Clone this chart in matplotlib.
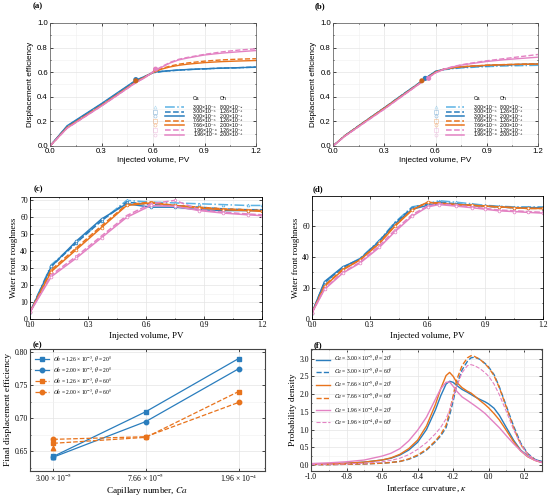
import numpy as np
import matplotlib.pyplot as plt
from matplotlib.ticker import MultipleLocator, FormatStrFormatter, NullLocator

plt.rcParams['mathtext.fontset'] = 'stix'

SANS = ['Liberation Sans', 'DejaVu Sans']
SERIF = ['Liberation Serif', 'DejaVu Serif']

# ---- series descriptions (panels a-d) ----
ca_txt = ['3.00×10⁻⁵', '3.00×10⁻⁵', '3.00×10⁻⁵', '7.66×10⁻⁵', '7.66×10⁻⁵', '1.96×10⁻⁴', '1.96×10⁻⁴']
oh_txt = ['8.00×10⁻²', '1.26×10⁻³', '2.00×10⁻³', '1.26×10⁻³', '2.00×10⁻³', '1.26×10⁻³', '2.00×10⁻³']
colores = ['#5cb3e4', '#2a7dbd', '#2a7dbd', '#e8731c', '#e8731c', '#e382c3', '#e382c3']
estilos = ['-.', '--', '-', '--', '-', '--', '-']
marcas = ['^', 's', 'o', 's', 'o', 's', 'o']

# ---- (a) displacement efficiency, theta = 20 deg ----
pv_a = [0, 0.1, 0.2, 0.3, 0.4, 0.5, 0.55, 0.6, 0.65, 0.7, 0.75, 0.8, 0.9, 1.0, 1.1, 1.2]
ef_a = [
    [0, 0.16, 0.25, 0.34, 0.435, 0.53, 0.562, 0.595, 0.605, 0.611, 0.616, 0.62, 0.627, 0.632, 0.636, 0.64],
    [0, 0.16, 0.25, 0.34, 0.435, 0.53, 0.563, 0.596, 0.606, 0.612, 0.617, 0.621, 0.628, 0.633, 0.637, 0.642],
    [0, 0.165, 0.255, 0.345, 0.44, 0.535, 0.565, 0.598, 0.607, 0.613, 0.618, 0.622, 0.628, 0.633, 0.637, 0.641],
    [0, 0.15, 0.24, 0.33, 0.425, 0.52, 0.56, 0.6, 0.63, 0.65, 0.665, 0.675, 0.69, 0.70, 0.706, 0.71],
    [0, 0.15, 0.24, 0.33, 0.425, 0.52, 0.558, 0.598, 0.625, 0.643, 0.656, 0.665, 0.678, 0.686, 0.691, 0.695],
    [0, 0.145, 0.235, 0.325, 0.42, 0.515, 0.555, 0.605, 0.645, 0.68, 0.705, 0.72, 0.745, 0.765, 0.78, 0.79],
    [0, 0.145, 0.235, 0.325, 0.42, 0.515, 0.553, 0.6, 0.64, 0.675, 0.70, 0.715, 0.74, 0.755, 0.766, 0.776],
]
bt_a_x = [0.5, 0.5, 0.615, 0.615]
bt_a_y = [0.54, 0.53, 0.62, 0.625]
bt_a_c = ['#2a7dbd', '#c8641a', '#e8731c', '#e382c3']

# ---- (b) displacement efficiency, theta = 60 deg ----
pv_b = [0, 0.07, 0.2, 0.3, 0.4, 0.5, 0.55, 0.6, 0.65, 0.7, 0.75, 0.8, 0.9, 1.0, 1.1, 1.2]
ef_b = [
    [0, 0.085, 0.213, 0.31, 0.41, 0.508, 0.558, 0.605, 0.62, 0.628, 0.634, 0.638, 0.645, 0.65, 0.653, 0.656],
    [0, 0.085, 0.213, 0.31, 0.41, 0.508, 0.558, 0.606, 0.623, 0.632, 0.639, 0.644, 0.652, 0.658, 0.662, 0.665],
    [0, 0.085, 0.213, 0.31, 0.41, 0.508, 0.558, 0.607, 0.625, 0.635, 0.642, 0.647, 0.655, 0.66, 0.664, 0.667],
    [0, 0.083, 0.21, 0.307, 0.405, 0.503, 0.552, 0.6, 0.625, 0.637, 0.644, 0.649, 0.657, 0.662, 0.665, 0.668],
    [0, 0.083, 0.21, 0.307, 0.405, 0.503, 0.552, 0.6, 0.624, 0.636, 0.643, 0.648, 0.656, 0.661, 0.664, 0.666],
    [0, 0.08, 0.205, 0.3, 0.4, 0.5, 0.548, 0.595, 0.625, 0.645, 0.66, 0.672, 0.693, 0.71, 0.727, 0.744],
    [0, 0.08, 0.205, 0.3, 0.4, 0.5, 0.548, 0.595, 0.624, 0.643, 0.657, 0.668, 0.687, 0.701, 0.712, 0.722],
]
bt_b_x = [0.54, 0.52, 0.56]
bt_b_y = [0.55, 0.53, 0.55]
bt_b_c = ['#2a7dbd', '#c8641a', '#e382c3']

# ---- (c) water front roughness, theta = 20 deg ----
pv_c = [0, 0.11, 0.24, 0.37, 0.5, 0.625, 0.75, 0.875, 1.0, 1.125, 1.2]
rug_c = [
    [4, 32, 45, 58, 70, 69, 68.5, 68, 67.5, 67, 67],
    [4, 31, 45, 58, 69, 67.5, 67, 66, 65, 64.5, 64.5],
    [4, 31, 46, 59, 68, 66, 66, 64.5, 64, 64, 64],
    [4, 29, 42, 55, 67.5, 69, 67, 66, 65, 64.5, 64],
    [4, 28, 41, 54, 67, 68.5, 67, 65.5, 64.5, 64, 63.5],
    [4, 26, 37, 49, 61, 68, 70, 64.5, 63, 62, 61.5],
    [4, 25, 36, 48, 60, 67, 66.5, 64, 62.5, 61.5, 61],
]

# ---- (d) water front roughness, theta = 60 deg ----
pv_d = [0, 0.065, 0.16, 0.25, 0.35, 0.43, 0.52, 0.6, 0.66, 0.75, 0.83, 0.9, 0.97, 1.05, 1.12, 1.2]
rug_d = [
    [4, 23, 33, 39, 50.5, 62, 72, 74, 76, 75, 74, 73, 72.5, 72, 72, 72],
    [4, 23.5, 33, 38.5, 50, 61.5, 71.5, 74, 75, 74, 73, 72.5, 72, 71.5, 71.5, 71.5],
    [4, 24, 33.5, 38.5, 50, 61, 70.5, 73, 74, 73.5, 73, 72.5, 72, 71.5, 71.5, 71.5],
    [4, 21.5, 32, 38, 49, 60, 70, 75, 74.5, 73.5, 73, 72.5, 72, 71.5, 71, 71],
    [4, 21, 31.5, 38, 48.5, 59.5, 70, 75, 74, 73.5, 73, 72.5, 72, 71.5, 71, 71],
    [4, 19.5, 30, 36.5, 47, 57, 67, 72.5, 74, 73, 72, 71, 70, 69.5, 69, 68.5],
    [4, 19, 29.5, 36, 46, 56, 66, 72, 73.5, 72.5, 71.5, 70.5, 69.5, 69, 68.5, 68],
]

# ---- (e) final displacement efficiency ----
ca_num = [3.00e-5, 7.66e-5, 1.96e-4]
ca_lbl = [r'3.00 × 10$^{-5}$', r'7.66 × 10$^{-5}$', r'1.96 × 10$^{-4}$']
fde_126_20 = [0.642, 0.710, 0.7905]
fde_200_20 = [0.641, 0.695, 0.775]
fde_126_60 = [0.662, 0.671, 0.7405]
fde_200_60 = [0.668, 0.672, 0.724]
fde_800_20 = [0.641]
fde_800_60 = [0.655]

# ---- (f) curvature distribution ----
kappa = [-1.0, -0.9, -0.8, -0.7, -0.6, -0.55, -0.5, -0.45, -0.4, -0.35, -0.3, -0.27, -0.24, -0.22, -0.2,
         -0.18, -0.15, -0.12, -0.1, -0.08, -0.05, -0.02, 0.0, 0.03, 0.06, 0.1, 0.14, 0.18, 0.22, 0.26, 0.3]
pdf_a20 = [0.02, 0.03, 0.05, 0.08, 0.14, 0.19, 0.28, 0.42, 0.64, 1.0, 1.55, 1.95, 2.28, 2.36, 2.33,
           2.24, 2.13, 2.05, 1.99, 1.93, 1.85, 1.78, 1.72, 1.6, 1.4, 1.05, 0.7, 0.42, 0.25, 0.15, 0.1]
pdf_a60 = [0.01, 0.01, 0.02, 0.03, 0.05, 0.07, 0.1, 0.16, 0.26, 0.42, 0.65, 0.82, 1.05, 1.4, 1.8,
           2.25, 2.68, 2.92, 3.02, 3.04, 2.98, 2.86, 2.76, 2.55, 2.2, 1.65, 1.1, 0.62, 0.32, 0.16, 0.08]
pdf_b20 = [0.02, 0.03, 0.05, 0.08, 0.14, 0.2, 0.3, 0.46, 0.7, 1.1, 1.7, 2.15, 2.52, 2.61, 2.5,
           2.33, 2.18, 2.08, 2.03, 1.95, 1.82, 1.7, 1.61, 1.45, 1.27, 0.97, 0.66, 0.4, 0.23, 0.13, 0.07]
pdf_b60 = [0.01, 0.01, 0.02, 0.03, 0.05, 0.07, 0.1, 0.17, 0.28, 0.44, 0.68, 0.86, 1.12, 1.5, 1.95,
           2.4, 2.8, 3.02, 3.08, 3.06, 2.98, 2.85, 2.74, 2.52, 2.18, 1.62, 1.05, 0.58, 0.3, 0.14, 0.07]
pdf_c20 = [0.04, 0.06, 0.09, 0.14, 0.25, 0.33, 0.46, 0.68, 0.98, 1.35, 1.85, 2.15, 2.33, 2.34, 2.22,
           2.08, 1.92, 1.82, 1.75, 1.68, 1.57, 1.45, 1.35, 1.2, 1.05, 0.82, 0.6, 0.4, 0.24, 0.13, 0.07]
pdf_c60 = [0.01, 0.02, 0.03, 0.05, 0.09, 0.13, 0.19, 0.29, 0.44, 0.63, 0.88, 1.06, 1.3, 1.55, 1.88,
           2.22, 2.6, 2.8, 2.83, 2.8, 2.72, 2.6, 2.5, 2.28, 1.98, 1.5, 1.0, 0.58, 0.3, 0.15, 0.07]

W, H = 550, 498
fig = plt.figure(figsize=(W / 100, H / 100), dpi=100)


def caja(l, t, r, b):
    return fig.add_axes([l / W, 1 - b / H, (r - l) / W, (b - t) / H])


def estilo(ax, fam, fs, marco='#333333', lw=0.6):
    ax.tick_params(which='both', direction='in', top=True, right=True, labelsize=fs,
                   length=2, width=0.5, pad=1.5, labelfontfamily=fam[0])
    ax.tick_params(which='minor', length=1)
    for s in ax.spines.values():
        s.set_color(marco)
        s.set_linewidth(lw)
    ax.grid(True, which='major', color='#e4e4e4', lw=0.5)
    ax.grid(True, which='minor', color='#f0f0f0', lw=0.4)
    ax.set_axisbelow(True)


def leyenda_tabla(ax, x0):
    fs = 3.7
    ax.text(x0 + 0.185, 0.385, 'Ca', transform=ax.transAxes, fontsize=fs, family=SANS, va='center')
    ax.text(x0 + 0.315, 0.385, 'Oh', transform=ax.transAxes, fontsize=fs, family=SANS, va='center')
    for i in range(7):
        yy = 0.315 - i * 0.037
        ax.plot([x0], [yy], marker=marcas[i], ms=2.2, mfc='none', mec=colores[i], mew=0.4, alpha=0.5,
                transform=ax.transAxes, clip_on=False)
        ax.plot([x0 + 0.05, x0 + 0.14], [yy, yy], color=colores[i], ls=estilos[i], lw=1.1,
                transform=ax.transAxes)
        ax.text(x0 + 0.185, yy, ca_txt[i], transform=ax.transAxes, fontsize=fs, family=SANS, va='center')
        ax.text(x0 + 0.315, yy, oh_txt[i], transform=ax.transAxes, fontsize=fs, family=SANS, va='center')


# (a) and (b)
for ax_pos, pv, ef, btx, bty, btc, x0 in [((50, 23, 256, 146), pv_a, ef_a, bt_a_x, bt_a_y, bt_a_c, 0.51),
                                          ((333, 23, 538, 146), pv_b, ef_b, bt_b_x, bt_b_y, bt_b_c, 0.50)]:
    ax = caja(*ax_pos)
    for i in range(7):
        ax.plot(pv, ef[i], color=colores[i], ls=estilos[i], lw=1.0)
    ax.scatter(btx, bty, s=7, c=btc, zorder=5)
    ax.set_xlim(0, 1.2)
    ax.set_ylim(0, 1.0)
    ax.xaxis.set_major_locator(MultipleLocator(0.3))
    ax.xaxis.set_minor_locator(MultipleLocator(0.15))
    ax.yaxis.set_major_locator(MultipleLocator(0.2))
    ax.yaxis.set_minor_locator(MultipleLocator(0.1))
    ax.xaxis.set_major_formatter(FormatStrFormatter('%.1f'))
    ax.yaxis.set_major_formatter(FormatStrFormatter('%.1f'))
    estilo(ax, SANS, 5.6, marco='#555555', lw=0.5)
    ax.set_xlabel('Injected volume, PV', fontsize=5.9, family=SANS, labelpad=1.5)
    ax.set_ylabel('Displacement efficiency', fontsize=5.9, family=SANS, labelpad=2)
    leyenda_tabla(ax, x0)

# (c) and (d)
for ax_pos, pv, rug, ylim, ystep in [((30, 197, 262, 319), pv_c, rug_c, 72, 10),
                                     ((312, 196, 543, 319), pv_d, rug_d, 79, 20)]:
    ax = caja(*ax_pos)
    for i in range(7):
        ax.plot(pv, rug[i], color=colores[i], ls=estilos[i], lw=1.1, marker=marcas[i], ms=2.0,
                mfc='white', mec=colores[i], mew=0.5)
    ax.set_xlim(0, 1.2)
    ax.set_ylim(0, ylim)
    ax.xaxis.set_major_locator(MultipleLocator(0.3))
    ax.xaxis.set_minor_locator(MultipleLocator(0.15))
    ax.yaxis.set_major_locator(MultipleLocator(ystep))
    ax.yaxis.set_minor_locator(MultipleLocator(ystep / 2))
    ax.xaxis.set_major_formatter(FormatStrFormatter('%.1f'))
    estilo(ax, SERIF, 5.5, marco='black', lw=0.6)
    ax.set_xlabel('Injected volume, PV', fontsize=6.5, family=SERIF, labelpad=2)
    ax.set_ylabel('Water front roughness', fontsize=6.5, family=SERIF, labelpad=2)

# (e)
ax = caja(30, 349, 265, 471)
ax.set_xscale('log')
c_az, c_na = '#2a7dbd', '#e8731c'
ax.plot(ca_num, fde_126_20, color=c_az, ls='-', marker='s', ms=3.2, lw=0.9,
        label=r'$Oh$ = 1.26 × 10$^{-3}$, $\theta$ = 20°')
ax.plot(ca_num, fde_200_20, color=c_az, ls='-', marker='o', ms=3.2, lw=0.9,
        label=r'$Oh$ = 2.00 × 10$^{-3}$, $\theta$ = 20°')
ax.plot(ca_num, fde_126_60, color=c_na, ls='--', marker='s', ms=3.2, lw=0.9,
        label=r'$Oh$ = 1.26 × 10$^{-3}$, $\theta$ = 60°')
ax.plot(ca_num, fde_200_60, color=c_na, ls='--', marker='o', ms=3.2, lw=0.9,
        label=r'$Oh$ = 2.00 × 10$^{-3}$, $\theta$ = 60°')
ax.plot(ca_num[:1], fde_800_20, color=c_az, ls='none', marker='^', ms=3.2)
ax.plot(ca_num[:1], fde_800_60, color=c_na, ls='none', marker='^', ms=3.2)
ax.set_xlim(2.37e-5, 2.56e-4)
ax.set_ylim(0.62, 0.805)
ax.set_xticks(ca_num)
ax.set_xticklabels(ca_lbl)
ax.xaxis.set_minor_locator(NullLocator())
ax.set_yticks([0.65, 0.70, 0.75, 0.80])
ax.yaxis.set_major_formatter(FormatStrFormatter('%.2f'))
ax.yaxis.set_minor_locator(MultipleLocator(0.025))
estilo(ax, SERIF, 5.5, marco='#444444', lw=0.8)
ax.tick_params(axis='x', pad=1.0)
ax.set_xlabel('Capillary number, $Ca$', fontsize=6.7, family=SERIF, labelpad=0.5)
ax.set_ylabel('Final displacement efficiency', fontsize=6.8, family=SERIF, labelpad=2)
ax.legend(loc='upper left', frameon=False, handlelength=2.6, labelspacing=0.2,
          borderaxespad=0.5, handletextpad=0.6, prop={'family': SERIF, 'size': 4.0})

# (f)
ax = caja(311, 349, 542, 471)
c_rs = '#e382c3'
ax.plot(kappa, pdf_a20, color=c_az, ls='-', lw=1.0, label=r'$Ca$ = 3.00 × 10$^{-5}$, $\theta$ = 20°')
ax.plot(kappa, pdf_a60, color=c_az, ls='--', lw=1.0, label=r'$Ca$ = 3.00 × 10$^{-5}$, $\theta$ = 60°')
ax.plot(kappa, pdf_b20, color=c_na, ls='-', lw=1.0, label=r'$Ca$ = 7.66 × 10$^{-5}$, $\theta$ = 20°')
ax.plot(kappa, pdf_b60, color=c_na, ls='--', lw=1.0, label=r'$Ca$ = 7.66 × 10$^{-5}$, $\theta$ = 60°')
ax.plot(kappa, pdf_c20, color=c_rs, ls='-', lw=1.0, label=r'$Ca$ = 1.96 × 10$^{-4}$, $\theta$ = 20°')
ax.plot(kappa, pdf_c60, color=c_rs, ls='--', lw=0.8, label=r'$Ca$ = 1.96 × 10$^{-4}$, $\theta$ = 60°')
ax.set_xlim(-1.0, 0.3)
ax.set_ylim(-0.17, 3.27)
ax.xaxis.set_major_locator(MultipleLocator(0.2))
ax.xaxis.set_minor_locator(MultipleLocator(0.1))
ax.yaxis.set_major_locator(MultipleLocator(0.5))
ax.yaxis.set_minor_locator(MultipleLocator(0.25))
ax.xaxis.set_major_formatter(FormatStrFormatter('%.1f'))
ax.yaxis.set_major_formatter(FormatStrFormatter('%.1f'))
estilo(ax, SERIF, 5.5, marco='#444444', lw=0.8)
ax.set_xlabel(r'Interface curvature, $\kappa$', fontsize=6.7, family=SERIF, labelpad=1.5)
ax.set_ylabel('Probability density', fontsize=6.8, family=SERIF, labelpad=2)
ax.legend(loc='upper left', frameon=False, handlelength=2.6, labelspacing=0.45,
          borderaxespad=0.5, handletextpad=0.6, prop={'family': SERIF, 'size': 4.0})

# panel letters
for letra, px, py in [('(a)', 38, 6), ('(b)', 320, 6), ('(c)', 38, 189), ('(d)', 318, 189),
                      ('(e)', 37, 345), ('(f)', 318, 345)]:
    fig.text(px / W, 1 - py / H, letra, fontsize=6.3, fontweight='bold', family=SERIF,
             ha='center', va='center')

fig.savefig('out.png', dpi=100)
